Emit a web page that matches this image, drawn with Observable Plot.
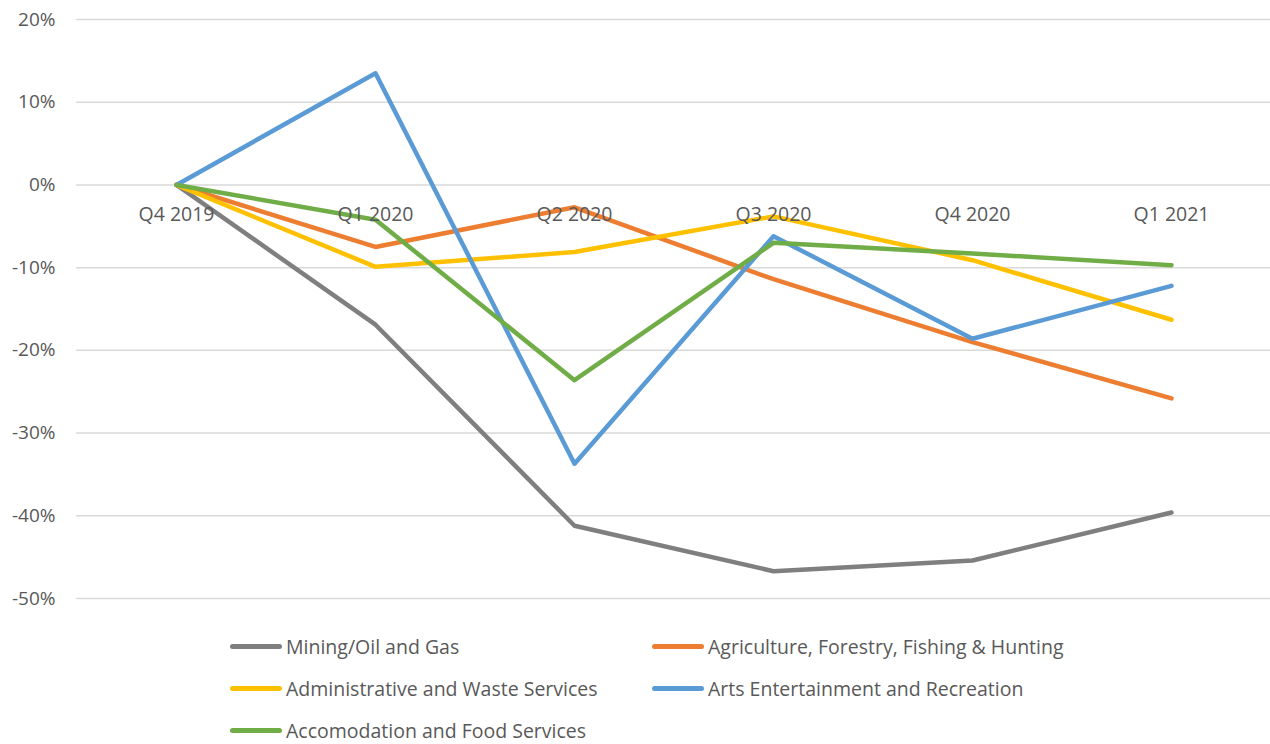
<!DOCTYPE html>
<html>
<head>
<meta charset="utf-8">
<script src="https://cdn.jsdelivr.net/npm/d3@7"></script>
<script src="https://cdn.jsdelivr.net/npm/@observablehq/plot@0.6"></script>
<style>
  body { margin: 0; background: #fff; font-family: "Open Sans", sans-serif; }
  #legend {
    display: grid;
    grid-template-columns: 422px auto;
    grid-auto-rows: 42px;
    padding-left: 230px;
    font-size: 19.5px;
    color: #595959;
  }
  .item { display: flex; align-items: center; }
  .swatch { width: 52px; height: 5px; border-radius: 3px; margin-right: 4px; }
</style>
</head>
<body>
<div id="chart"></div>
<div id="legend"></div>
<script>
// Quarterly change relative to Q4 2019, in percent
const quarters = ["Q4 2019", "Q1 2020", "Q2 2020", "Q3 2020", "Q4 2020", "Q1 2021"];
const seriesNames = [
  "Mining/Oil and Gas",
  "Agriculture, Forestry, Fishing & Hunting",
  "Administrative and Waste Services",
  "Arts Entertainment and Recreation",
  "Accomodation and Food Services"
];
const seriesColors = ["#7f7f7f", "#ed7d31", "#ffc000", "#5b9bd5", "#70ad47"];
const mining      = [0, -16.9, -41.2, -46.7, -45.4, -39.6];
const agriculture = [0, -7.5, -2.7, -11.4, -19.0, -25.8];
const admin       = [0, -9.9, -8.1, -3.8, -9.1, -16.3];
const arts        = [0, 13.5, -33.7, -6.2, -18.6, -12.2];
const accomodation = [0, -4.2, -23.6, -7.0, -8.3, -9.7];
const yTicks = [-50, -40, -30, -20, -10, 0, 10, 20];

const seriesValues = [mining, agriculture, admin, arts, accomodation];
const rows = seriesNames.flatMap((name, i) =>
  quarters.map((q, j) => ({series: name, quarter: q, value: seriesValues[i][j]}))
);

const chart = Plot.plot({
  width: 1270,
  height: 625,
  marginTop: 19,
  marginBottom: 27,
  marginLeft: 76,
  marginRight: 0,
  style: {fontFamily: "'Open Sans', sans-serif", fontSize: "19px", color: "#595959", background: "#fff"},
  x: {type: "point", domain: quarters, padding: 0.5, axis: null},
  y: {domain: [-50, 20], axis: null},
  color: {domain: seriesNames, range: seriesColors},
  marks: [
    Plot.gridY(yTicks, {stroke: "#d9d9d9", strokeOpacity: 1, strokeWidth: 1.5}),
    Plot.axisY(yTicks, {
      tickSize: 0, tickPadding: 21, label: null,
      tickFormat: d => `${d}%`, fill: "#595959", fontSize: 19
    }),
    Plot.lineY(rows, {
      x: "quarter", y: "value", z: "series", stroke: "series",
      strokeWidth: 4.5, strokeLinecap: "round", strokeLinejoin: "round"
    }),
    Plot.text(quarters, {
      x: d => d, y: () => 0, dy: 30, text: d => d,
      fill: "#595959", fontSize: 19.5
    })
  ]
});
document.getElementById("chart").appendChild(chart);

const legend = document.getElementById("legend");
seriesNames.forEach((name, i) => {
  const item = document.createElement("div");
  item.className = "item";
  const sw = document.createElement("span");
  sw.className = "swatch";
  sw.style.background = seriesColors[i];
  const label = document.createElement("span");
  label.textContent = name;
  item.append(sw, label);
  legend.appendChild(item);
});
</script>
</body>
</html>
